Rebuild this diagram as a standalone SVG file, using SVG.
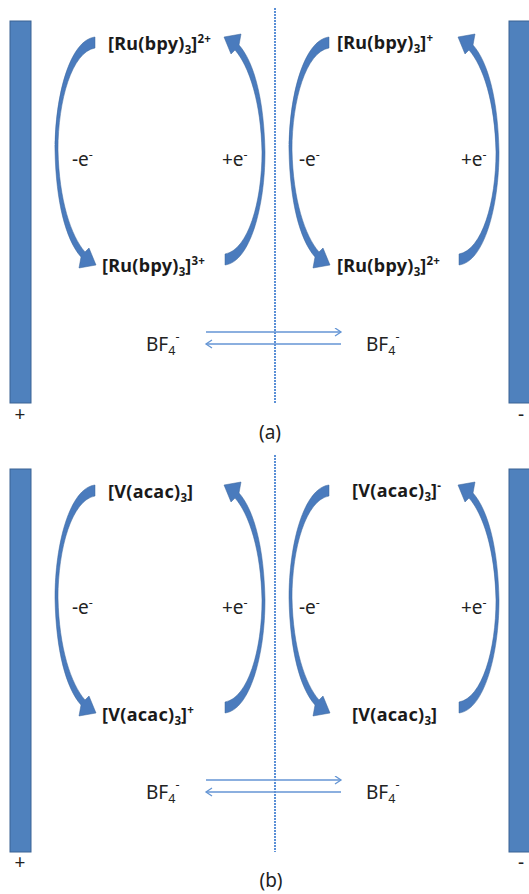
<svg xmlns="http://www.w3.org/2000/svg" xmlns:xlink="http://www.w3.org/1999/xlink" width="529" height="894" viewBox="0 0 529 894">
<style>
.el{fill:#4F81BD;stroke:#3A6394;stroke-width:1}
.arc{fill:#4A7BBD;stroke:#3A649B;stroke-width:0.5}
.sep{stroke:#5B90D6;stroke-width:2;stroke-dasharray:2 1;fill:none}
.ion{stroke:#6495D4;stroke-width:1.3;fill:none}
.sp{font-family:"Noto Sans","Liberation Sans",sans-serif;font-weight:bold;font-size:18px;letter-spacing:0.3px;fill:#1a1a1a}
.t{font-family:"Noto Sans","Liberation Sans",sans-serif;font-size:19px;fill:#222222}
.s{font-size:11.5px;letter-spacing:0}
.s2{font-size:12.5px}
</style>
<defs>
<path id="arcL" d="M95,37 C70,40 55,95 55,150 C56,203 66,240 81,257 L79,268 L96,265 L89,248 L85,252 C71,236 59,200 58,150 C58,100 72,52 95,48 Z"/>
<marker id="ah" markerUnits="userSpaceOnUse" markerWidth="10" markerHeight="10" refX="7" refY="4.5" orient="auto">
<path d="M1,0.5 L7,4.5 L1,8.5" fill="none" stroke="#6495D4" stroke-width="1.3"/>
</marker>
</defs>
<rect width="529" height="894" fill="#ffffff"/>

<g id="electrodes">
<rect id="anode-a" class="el" x="10" y="21" width="21" height="382"/>
<rect id="cathode-a" class="el" x="509" y="21" width="30" height="382"/>
<rect id="anode-b" class="el" x="10" y="469" width="21" height="383"/>
<rect id="cathode-b" class="el" x="509" y="469" width="30" height="383"/>
</g>

<g id="separators">
<line class="sep" x1="275" y1="8" x2="275" y2="403"/>
<line class="sep" x1="275" y1="455" x2="275" y2="852"/>
</g>

<g id="connectors">
<use class="arc" xlink:href="#arcL"/>
<use class="arc" xlink:href="#arcL" transform="rotate(180,160,151)"/>
<use class="arc" xlink:href="#arcL" transform="translate(234,0)"/>
<use class="arc" xlink:href="#arcL" transform="translate(234,0) rotate(180,160,151)"/>
<use class="arc" xlink:href="#arcL" transform="translate(0,448)"/>
<use class="arc" xlink:href="#arcL" transform="translate(0,448) rotate(180,160,151)"/>
<use class="arc" xlink:href="#arcL" transform="translate(234,448)"/>
<use class="arc" xlink:href="#arcL" transform="translate(234,448) rotate(180,160,151)"/>
<line class="ion" x1="206" y1="332" x2="341" y2="332" marker-end="url(#ah)"/>
<line class="ion" x1="341" y1="344" x2="206" y2="344" marker-end="url(#ah)"/>
<line class="ion" x1="206" y1="780" x2="341" y2="780" marker-end="url(#ah)"/>
<line class="ion" x1="341" y1="792" x2="206" y2="792" marker-end="url(#ah)"/>
</g>

<g id="ru-2plus-left"><text class="sp" x="108" y="50">[Ru(bpy)<tspan class="s" dy="4">3</tspan><tspan dy="-4">]</tspan><tspan class="s" dy="-7">2+</tspan></text></g>
<g id="ru-3plus-left"><text class="sp" x="102" y="272">[Ru(bpy)<tspan class="s" dy="4">3</tspan><tspan dy="-4">]</tspan><tspan class="s" dy="-7">3+</tspan></text></g>
<g id="ru-plus-right"><text class="sp" x="337" y="49">[Ru(bpy)<tspan class="s" dy="4">3</tspan><tspan dy="-4">]</tspan><tspan class="s" dy="-7">+</tspan></text></g>
<g id="ru-2plus-right"><text class="sp" x="337" y="272">[Ru(bpy)<tspan class="s" dy="4">3</tspan><tspan dy="-4">]</tspan><tspan class="s" dy="-7">2+</tspan></text></g>

<g id="v-left-top"><text class="sp" x="108" y="498">[V(acac)<tspan class="s" dy="4">3</tspan><tspan dy="-4">]</tspan></text></g>
<g id="v-left-bottom"><text class="sp" x="102" y="721">[V(acac)<tspan class="s" dy="4">3</tspan><tspan dy="-4">]</tspan><tspan class="s" dy="-7">+</tspan></text></g>
<g id="v-right-top"><text class="sp" x="352" y="497">[V(acac)<tspan class="s" dy="4">3</tspan><tspan dy="-4">]</tspan><tspan class="s" dy="-7">-</tspan></text></g>
<g id="v-right-bottom"><text class="sp" x="352" y="721">[V(acac)<tspan class="s" dy="4">3</tspan><tspan dy="-4">]</tspan></text></g>

<g id="electron-labels">
<text class="t" x="72" y="166">-e<tspan class="s2" dy="-7">-</tspan></text>
<text class="t" x="222" y="166">+e<tspan class="s2" dy="-7">-</tspan></text>
<text class="t" x="299" y="166">-e<tspan class="s2" dy="-7">-</tspan></text>
<text class="t" x="461" y="166">+e<tspan class="s2" dy="-7">-</tspan></text>
<text class="t" x="72" y="614">-e<tspan class="s2" dy="-7">-</tspan></text>
<text class="t" x="222" y="614">+e<tspan class="s2" dy="-7">-</tspan></text>
<text class="t" x="299" y="614">-e<tspan class="s2" dy="-7">-</tspan></text>
<text class="t" x="461" y="614">+e<tspan class="s2" dy="-7">-</tspan></text>
</g>

<g id="bf4-a-left"><text class="t" x="146" y="351">BF<tspan class="s2" dy="4">4</tspan><tspan class="s2" dy="-14">-</tspan></text></g>
<g id="bf4-a-right"><text class="t" x="366" y="351">BF<tspan class="s2" dy="4">4</tspan><tspan class="s2" dy="-14">-</tspan></text></g>
<g id="bf4-b-left"><text class="t" x="146" y="799">BF<tspan class="s2" dy="4">4</tspan><tspan class="s2" dy="-14">-</tspan></text></g>
<g id="bf4-b-right"><text class="t" x="366" y="799">BF<tspan class="s2" dy="4">4</tspan><tspan class="s2" dy="-14">-</tspan></text></g>

<g id="polarity">
<text class="t" x="20" y="421" text-anchor="middle">+</text>
<text class="t" x="521" y="421" text-anchor="middle">-</text>
<text class="t" x="20" y="869" text-anchor="middle">+</text>
<text class="t" x="521" y="869" text-anchor="middle">-</text>
</g>
<g id="captions">
<text class="t" x="270" y="439" text-anchor="middle">(a)</text>
<text class="t" x="271" y="887" text-anchor="middle">(b)</text>
</g>
</svg>
